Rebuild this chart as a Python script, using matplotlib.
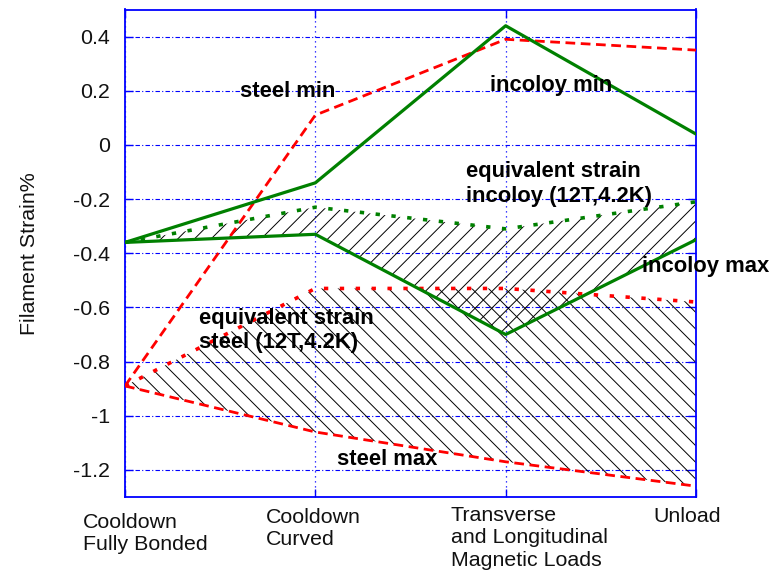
import matplotlib
matplotlib.use("Agg")
import matplotlib.pyplot as plt
import numpy as np

# Load stages along the x axis
stages = [
    "Cooldown\nFully Bonded",
    "Cooldown\nCurved",
    "Transverse\nand Longitudinal\nMagnetic Loads",
    "Unload",
]

# Filament strain (%) per stage
incoloy_min = [-0.36, -0.14, 0.44, 0.04]
incoloy_max = [-0.36, -0.33, -0.70, -0.35]
incoloy_eq = [-0.36, -0.23, -0.31, -0.21]
steel_min = [-0.89, 0.11, 0.39, 0.35]
steel_max = [-0.89, -1.06, -1.17, -1.26]
steel_eq = [-0.89, -0.53, -0.53, -0.58]

y_ticks = [0.4, 0.2, 0, -0.2, -0.4, -0.6, -0.8, -1, -1.2]
y_tick_labels = ["0.4", "0.2", "0", "-0.2", "-0.4", "-0.6", "-0.8", "-1", "-1.2"]

plt.rcParams["font.family"] = ["Liberation Sans", "DejaVu Sans"]
plt.rcParams["hatch.linewidth"] = 0.7

BLUE = "#0000ff"
GREEN = "#008000"
RED = "#ff0000"
TXT = "#111111"

W, H = 783, 577
fig = plt.figure(figsize=(W / 100, H / 100), dpi=100)
ax = fig.add_axes([125 / W, 1 - 497 / H, (696 - 125) / W, (497 - 9.5) / H])

x = np.arange(len(stages))
ax.set_xlim(0, 3)
ax.set_ylim(-1.3, 0.5)

# grid and frame
ax.set_yticks(y_ticks)
ax.set_yticklabels(y_tick_labels)
ax.set_xticks(x)
ax.set_xticklabels([])
ax.yaxis.grid(True, color=BLUE, linestyle=(0, (4, 2, 1, 2)), linewidth=0.8)
ax.xaxis.grid(True, color=BLUE, linestyle=(0, (1, 3)), linewidth=0.9)
ax.set_axisbelow(True)
for sp in ax.spines.values():
    sp.set_color(BLUE)
    sp.set_linewidth(1.3)
ax.tick_params(direction="in", length=6, width=1, color=BLUE,
               top=True, right=True, labelsize=15.4, pad=11, labelcolor=TXT)

# hatched equivalent-strain bands
ax.fill_between(x, steel_eq, steel_max, facecolor="none", edgecolor="black",
                hatch="\\\\", linewidth=0, zorder=2)
ax.fill_between(x, incoloy_eq, incoloy_max, facecolor="none", edgecolor="black",
                hatch="//", linewidth=0, zorder=2)

# strain curves
dot = (0, (1.2, 3.2))
dash = (0, (3.5, 2.0))
ax.plot(x, steel_min, color=RED, lw=2.0, ls=dash, zorder=3)
ax.plot(x, steel_max, color=RED, lw=2.0, ls=dash, zorder=3)
ax.plot(x, steel_eq, color=RED, lw=2.6, ls=dot, zorder=3)
ax.plot(x, incoloy_min, color=GREEN, lw=2.3, zorder=4)
ax.plot(x, incoloy_max, color=GREEN, lw=2.3, zorder=4)
ax.plot(x, incoloy_eq, color=GREEN, lw=2.6, ls=dot, zorder=4)

# curve labels (baseline of the last line at the given point)
lab = dict(fontsize=15.8, fontweight="bold", color="black", ha="left",
           va="baseline", zorder=5, clip_on=False, linespacing=1.22)
ax.text(0.604, 0.176, "steel min", **lab)
ax.text(1.918, 0.200, "incoloy min", **lab)
ax.text(1.792, -0.210, "equivalent strain\nincoloy (12T,4.2K)", **lab)
ax.text(2.716, -0.470, "incoloy max", **lab)
ax.text(0.389, -0.751, "equivalent strain\nsteel (12T,4.2K)", **lab)
ax.text(1.113, -1.182, "steel max", **lab)

# stage labels under the axis
offsets = [(-42, -16), (-49, -11), (-55, -9), (-43, -10)]
for xi, name, (dx, dy) in zip(x, stages, offsets):
    ax.annotate(name, xy=(xi, 0), xycoords=("data", "axes fraction"),
                xytext=(dx, dy), textcoords="offset pixels",
                ha="left", va="top", fontsize=15.4, color=TXT,
                linespacing=1.22, annotation_clip=False)

ax.set_ylabel("Filament Strain%", fontsize=15.4, color=TXT)
ax.yaxis.set_label_coords(-0.151, 0.5)

fig.savefig("out.png", dpi=100, facecolor="white")
